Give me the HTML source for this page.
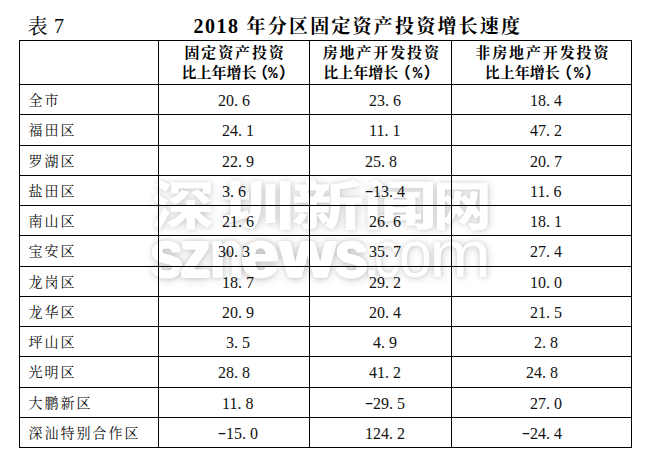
<!DOCTYPE html>
<html lang="zh-CN">
<head>
<meta charset="utf-8">
<title>表7 2018年分区固定资产投资增长速度</title>
<style>
html,body{margin:0;padding:0;background:#fff;}
body{width:661px;height:469px;position:relative;overflow:hidden;color:#000;
 font-family:"Liberation Serif","Noto Serif CJK SC",serif;}
.ln{position:absolute;background:#000;}
.t{position:absolute;white-space:nowrap;line-height:20px;height:20px;}
.lab{font-size:14px;letter-spacing:2px;font-weight:400;color:#111;}
.num{font-size:16px;font-family:"Liberation Serif",serif;color:#111;}
.num i{font-style:normal;letter-spacing:4px;}
.num b{font-weight:400;display:inline-block;width:8px;text-align:center;transform:scaleX(1.6);position:relative;top:-1px;}
.hd{font-weight:700;font-size:15px;}
.h1{letter-spacing:1.87px;}
.h2{letter-spacing:0px;}
.pr,.pc{line-height:0;}
.pr{font-family:"Noto Sans CJK SC",sans-serif;font-weight:700;font-size:16px;letter-spacing:-1px;}
.pc{font-family:"Liberation Mono",monospace;font-size:16px;letter-spacing:-1.6px;}
.ttl{font-weight:700;font-size:20px;line-height:24px;height:24px;}
.wm span{position:absolute;top:0;transform-origin:0 0;}
.wm .lt{font-weight:400;}
.wm .bd{text-shadow:1.6px 0 0 #fff,-1.6px 0 0 #fff,0 1.2px 0 #fff,0 -1.2px 0 #fff,0 0 6px rgba(0,0,0,.20),1px 1px 9px rgba(0,0,0,.16),1px 1px 13px rgba(0,0,0,.10);}
.wm{position:absolute;white-space:nowrap;color:#fff;font-weight:700;
 font-family:"Liberation Sans","Noto Sans CJK SC",sans-serif;transform-origin:0 0;
 text-shadow:0 0 4px rgba(0,0,0,.11),1px 1px 7px rgba(0,0,0,.12),1px 1px 11px rgba(0,0,0,.08);}
</style>
</head>
<body>

<div class="wm" id="wm1" aria-label="深圳新闻网" style="left:0;top:180.7px;font-size:52px;line-height:52px;-webkit-text-stroke:0.8px #fff;"><span style="left:150.77px;transform:scaleX(1.219)">深</span><span style="left:218.97px;transform:scaleX(1.457)">圳</span><span style="left:292.13px;transform:scaleX(1.380)">新</span><span style="left:362.54px;transform:scaleX(1.429)">闻</span><span style="left:432.91px;transform:scaleX(1.126)">网</span></div>
<div class="wm" id="wm2" aria-label="sznews.com" style="left:0;top:220.3px;font-size:67px;line-height:67px;"><span class="bd" style="left:149.91px;transform:scaleX(0.897)">s</span><span class="bd" style="left:180.21px;transform:scaleX(0.929)">z</span><span class="bd" style="left:209.69px;transform:scaleX(0.827)">n</span><span class="bd" style="left:241.34px;transform:scaleX(1.019)">e</span><span class="bd" style="left:280.00px;transform:scaleX(1.065)">w</span><span class="bd" style="left:335.35px;transform:scaleX(0.884)">s</span><span class="lt" style="left:361.60px;transform:scaleX(1.067)">.</span><span class="lt" style="left:373.98px;transform:scaleX(0.775)">c</span><span class="lt" style="left:399.35px;transform:scaleX(0.884)">o</span><span class="lt" style="left:429.23px;transform:scaleX(1.113)">m</span></div>
<div class="ln" style="left:19px;top:40px;width:613px;height:1px"></div>
<div class="ln" style="left:19px;top:84px;width:613px;height:1px"></div>
<div class="ln" style="left:19px;top:114px;width:613px;height:1px"></div>
<div class="ln" style="left:19px;top:145px;width:613px;height:1px"></div>
<div class="ln" style="left:19px;top:175px;width:613px;height:1px"></div>
<div class="ln" style="left:19px;top:205px;width:613px;height:1px"></div>
<div class="ln" style="left:19px;top:235px;width:613px;height:1px"></div>
<div class="ln" style="left:19px;top:266px;width:613px;height:1px"></div>
<div class="ln" style="left:19px;top:296px;width:613px;height:1px"></div>
<div class="ln" style="left:19px;top:326px;width:613px;height:1px"></div>
<div class="ln" style="left:19px;top:356px;width:613px;height:1px"></div>
<div class="ln" style="left:19px;top:387px;width:613px;height:1px"></div>
<div class="ln" style="left:19px;top:417px;width:613px;height:1px"></div>
<div class="ln" style="left:19px;top:447px;width:613px;height:1px"></div>
<div class="ln" style="left:19px;top:40px;width:1px;height:408px"></div>
<div class="ln" style="left:158px;top:40px;width:1px;height:408px"></div>
<div class="ln" style="left:309px;top:40px;width:1px;height:408px"></div>
<div class="ln" style="left:451px;top:40px;width:1px;height:408px"></div>
<div class="ln" style="left:631px;top:40px;width:1px;height:408px"></div>
<div class="t" id="cap1" style="left:27.6px;top:15px;font-size:20px;line-height:24px;height:24px;">表</div>
<div class="t" id="cap2" style="left:54px;top:14px;font-size:20px;line-height:24px;height:24px;font-family:'Liberation Serif',serif;">7</div>
<div class="t ttl" id="ttl1" style="left:193.5px;top:13.5px;letter-spacing:1.5px;font-family:'Liberation Serif',serif;">2018</div>
<div class="t ttl" id="ttl2" style="left:246.6px;top:15.4px;font-size:19px;letter-spacing:2.2px;">年分区固定资产投资增长速度</div>
<div class="t hd h1" id="h0a" style="left:184.5px;top:43px;">固定资产投资</div>
<div class="t hd h2" id="h0b" style="left:181.5px;top:63px;">比上年增长<span class="pr" style="margin-left:-4.5px">（</span><span class="pc" style="margin-left:1.0px">%</span><span class="pr" style="margin-left:3.0px">）</span></div>
<div class="t hd h1" id="h1a" style="left:322.7px;top:43px;">房地产开发投资</div>
<div class="t hd h2" id="h1b" style="left:323.3px;top:63px;">比上年增长<span class="pr" style="margin-left:-3.7px">（</span><span class="pc" style="margin-left:3.0px">%</span><span class="pr" style="margin-left:3.0px">）</span></div>
<div class="t hd h1" id="h2a" style="left:475.3px;top:43px;">非房地产开发投资</div>
<div class="t hd h2" id="h2b" style="left:484.7px;top:63px;">比上年增长<span class="pr" style="margin-left:-3.7px">（</span><span class="pc" style="margin-left:3.0px">%</span><span class="pr" style="margin-left:3.0px">）</span></div>
<div class="t lab" id="l0" style="left:28.5px;top:91.0px;">全市</div>
<div class="t num" id="n0_0" style="left:218.0px;top:91.0px;">20<i>.</i>6</div>
<div class="t num" id="n0_1" style="left:369.0px;top:91.0px;">23<i>.</i>6</div>
<div class="t num" id="n0_2" style="left:530.0px;top:91.0px;">18<i>.</i>4</div>
<div class="t lab" id="l1" style="left:28.5px;top:121.0px;">福田区</div>
<div class="t num" id="n1_0" style="left:222.0px;top:121.0px;">24<i>.</i>1</div>
<div class="t num" id="n1_1" style="left:369.0px;top:121.0px;">11<i>.</i>1</div>
<div class="t num" id="n1_2" style="left:530.0px;top:121.0px;">47<i>.</i>2</div>
<div class="t lab" id="l2" style="left:28.5px;top:152.0px;">罗湖区</div>
<div class="t num" id="n2_0" style="left:222.0px;top:152.0px;">22<i>.</i>9</div>
<div class="t num" id="n2_1" style="left:365.0px;top:152.0px;">25<i>.</i>8</div>
<div class="t num" id="n2_2" style="left:530.0px;top:152.0px;">20<i>.</i>7</div>
<div class="t lab" id="l3" style="left:28.5px;top:182.0px;">盐田区</div>
<div class="t num" id="n3_0" style="left:222.0px;top:182.0px;">3<i>.</i>6</div>
<div class="t num" id="n3_1" style="left:365.0px;top:182.0px;"><b>-</b>13<i>.</i>4</div>
<div class="t num" id="n3_2" style="left:530.0px;top:182.0px;">11<i>.</i>6</div>
<div class="t lab" id="l4" style="left:28.5px;top:212.0px;">南山区</div>
<div class="t num" id="n4_0" style="left:222.0px;top:212.0px;">21<i>.</i>6</div>
<div class="t num" id="n4_1" style="left:369.0px;top:212.0px;">26<i>.</i>6</div>
<div class="t num" id="n4_2" style="left:530.0px;top:212.0px;">18<i>.</i>1</div>
<div class="t lab" id="l5" style="left:28.5px;top:242.0px;">宝安区</div>
<div class="t num" id="n5_0" style="left:218.0px;top:242.0px;">30<i>.</i>3</div>
<div class="t num" id="n5_1" style="left:369.0px;top:242.0px;">35<i>.</i>7</div>
<div class="t num" id="n5_2" style="left:530.0px;top:242.0px;">27<i>.</i>4</div>
<div class="t lab" id="l6" style="left:28.5px;top:273.0px;">龙岗区</div>
<div class="t num" id="n6_0" style="left:222.0px;top:273.0px;">18<i>.</i>7</div>
<div class="t num" id="n6_1" style="left:369.0px;top:273.0px;">29<i>.</i>2</div>
<div class="t num" id="n6_2" style="left:530.0px;top:273.0px;">10<i>.</i>0</div>
<div class="t lab" id="l7" style="left:28.5px;top:303.0px;">龙华区</div>
<div class="t num" id="n7_0" style="left:222.0px;top:303.0px;">20<i>.</i>9</div>
<div class="t num" id="n7_1" style="left:369.0px;top:303.0px;">20<i>.</i>4</div>
<div class="t num" id="n7_2" style="left:530.0px;top:303.0px;">21<i>.</i>5</div>
<div class="t lab" id="l8" style="left:28.5px;top:333.0px;">坪山区</div>
<div class="t num" id="n8_0" style="left:226.0px;top:333.0px;">3<i>.</i>5</div>
<div class="t num" id="n8_1" style="left:373.0px;top:333.0px;">4<i>.</i>9</div>
<div class="t num" id="n8_2" style="left:534.0px;top:333.0px;">2<i>.</i>8</div>
<div class="t lab" id="l9" style="left:28.5px;top:363.0px;">光明区</div>
<div class="t num" id="n9_0" style="left:218.0px;top:363.0px;">28<i>.</i>8</div>
<div class="t num" id="n9_1" style="left:369.0px;top:363.0px;">41<i>.</i>2</div>
<div class="t num" id="n9_2" style="left:526.0px;top:363.0px;">24<i>.</i>8</div>
<div class="t lab" id="l10" style="left:28.5px;top:394.0px;">大鹏新区</div>
<div class="t num" id="n10_0" style="left:222.0px;top:394.0px;">11<i>.</i>8</div>
<div class="t num" id="n10_1" style="left:365.0px;top:394.0px;"><b>-</b>29<i>.</i>5</div>
<div class="t num" id="n10_2" style="left:530.0px;top:394.0px;">27<i>.</i>0</div>
<div class="t lab" id="l11" style="left:28.5px;top:424.0px;">深汕特别合作区</div>
<div class="t num" id="n11_0" style="left:218.0px;top:424.0px;"><b>-</b>15<i>.</i>0</div>
<div class="t num" id="n11_1" style="left:365.0px;top:424.0px;">124<i>.</i>2</div>
<div class="t num" id="n11_2" style="left:522.0px;top:424.0px;"><b>-</b>24<i>.</i>4</div>
</body>
</html>
